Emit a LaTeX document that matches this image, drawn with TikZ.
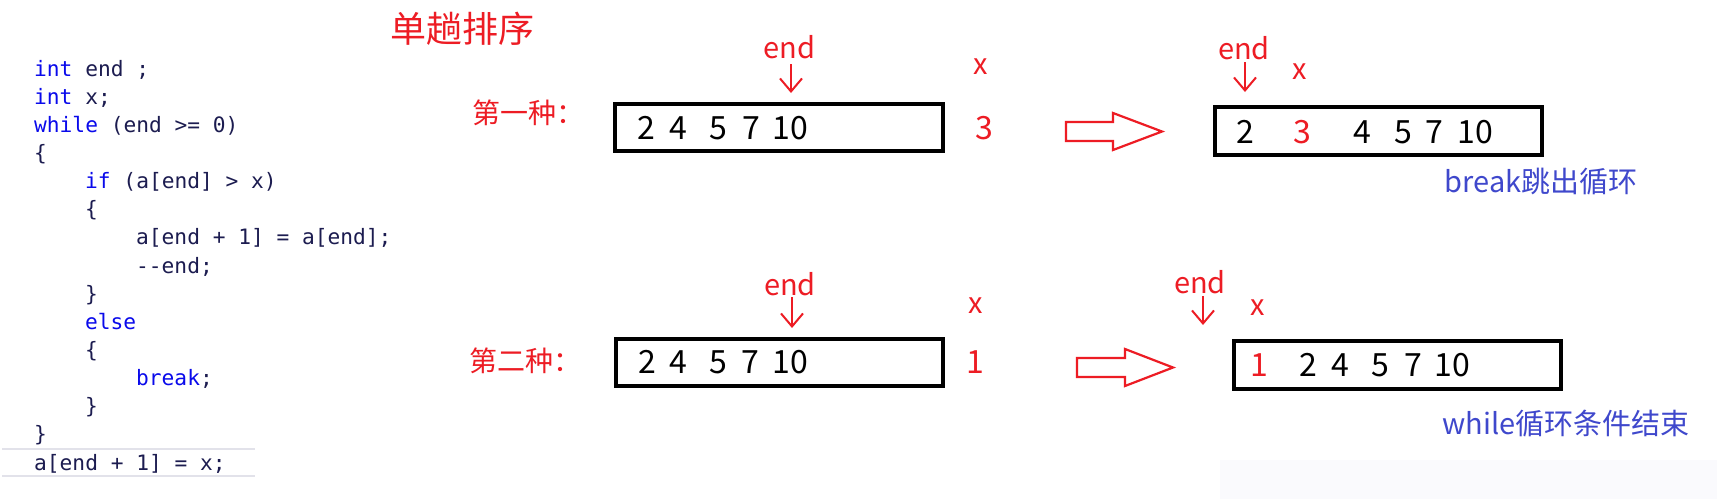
\documentclass[tikz,border=0pt]{standalone}
\usepackage{fontspec}
\usetikzlibrary{arrows.meta}
\newfontfamily\cjk{Noto Sans CJK SC}
\newfontfamily\codefont{DejaVu Sans Mono}
\definecolor{pred}{RGB}{237,28,36}
\definecolor{pblue}{RGB}{63,72,204}
\definecolor{kwblue}{RGB}{10,10,235}
\definecolor{codetxt}{RGB}{28,28,80}
\definecolor{rule}{RGB}{226,226,234}
\definecolor{faint}{RGB}{250,250,253}
\newcommand{\kw}[1]{\textcolor{kwblue}{#1}}
\tikzset{
  code/.style={anchor=base west, inner sep=0pt, text=codetxt, font=\codefont\fontsize{21.2}{25}\selectfont},
  lbl/.style={inner sep=0pt, text=pred, font=\cjk\fontsize{29}{32}\selectfont},
  cn/.style={inner sep=0pt, text=pred, font=\cjk\fontsize{28}{32}\selectfont},
  note/.style={inner sep=0pt, text=pblue, font=\cjk\fontsize{29}{32}\selectfont},
  dig/.style={inner sep=0pt, text=black, font=\cjk\fontsize{32}{35}\selectfont},
  rdig/.style={dig, text=pred},
  arrbox/.style={draw=black, line width=4pt, inner sep=0pt},
  darr/.style={draw=pred, line width=2pt, -{Straight Barb[length=13pt,width=22pt,line width=2pt]}},
  hollow/.style={draw=pred, line width=2.2pt, line join=miter},
}
\begin{document}
\begin{tikzpicture}[x=1pt,y=-1pt]
\useasboundingbox (0,0) rectangle (1717,499);
\fill[white] (0,0) rectangle (1717,499);
\fill[faint] (1220,460) rectangle (1717,499);

% code block
\draw[rule, line width=2pt] (2,449) -- (255,449);
\draw[rule, line width=2pt] (2,476) -- (255,476);
\node[code] (l1)  at (34,76)     {\kw{int} end ;};
\node[code] (l2)  at (34,104.1)  {\kw{int} x;};
\node[code] (l3)  at (34,132.3)  {\kw{while} (end >= 0)};
\node[code] (l4)  at (34,160.4)  {\{};
\node[code] (l5)  at (85,188.6)  {\kw{if} (a[end] > x)};
\node[code] (l6)  at (85,216.7)  {\{};
\node[code] (l7)  at (136,244.8) {a[end + 1] = a[end];};
\node[code] (l8)  at (136,273.0) {-{}-end;};
\node[code] (l9)  at (85,301.1)  {\}};
\node[code] (l10) at (85,329.3)  {\kw{else}};
\node[code] (l11) at (85,357.4)  {\{};
\node[code] (l12) at (136,385.5) {\kw{break};};
\node[code] (l13) at (85,413.7)  {\}};
\node[code] (l14) at (34,441.8)  {\}};
\node[code] (l15) at (34,470)    {a[end + 1] = x;};

% title
\node[inner sep=0pt, text=pred, font=\cjk\fontsize{36}{40}\selectfont, anchor=west] (title) at (390,29) {单趟排序};

% ---- first case ----
\node[cn, anchor=west] (case1) at (472,113) {第一种：};
\node[arrbox, minimum width=328pt, minimum height=47pt] (box1) at (779,127.5) {};
\node[dig] (b1a) at (646,128) {2};
\node[dig] (b1b) at (678,128) {4};
\node[dig] (b1c) at (718.5,128) {5};
\node[dig] (b1d) at (751,128) {7};
\node[dig] (b1e) at (790.5,128) {10};
\node[lbl] (end1) at (789.5,47) {end};
\coordinate (e1s) at (791,64);
\coordinate (e1t) at (791,93);
\draw[darr] (e1s) -- (e1t);
\node[lbl] (x1) at (981,67) {x};
\node[rdig] (v1) at (984,128) {3};

\draw[hollow] (1066,122) -- (1113,122) -- (1113,113) -- (1162,131.5) -- (1113,150) -- (1113,141) -- (1066,141) -- cycle;

\node[arrbox, minimum width=327pt, minimum height=48pt] (box2) at (1378,131) {};
\node[dig] (b2a) at (1245,132) {2};
\node[rdig] (b2b) at (1302,132) {3};
\node[dig] (b2c) at (1362,132) {4};
\node[dig] (b2d) at (1403,132) {5};
\node[dig] (b2e) at (1434,132) {7};
\node[dig] (b2f) at (1475,132) {10};
\node[lbl] (end2) at (1244,48) {end};
\coordinate (e2s) at (1245,62);
\coordinate (e2t) at (1245,92);
\draw[darr] (e2s) -- (e2t);
\node[lbl] (x2) at (1300,72) {x};
\node[note] (n1) at (1541,182) {break跳出循环};

% ---- second case ----
\node[cn, anchor=west] (case2) at (469,361) {第二种：};
\node[arrbox, minimum width=327pt, minimum height=47pt] (box3) at (779,362.5) {};
\node[dig] (b3a) at (647,362) {2};
\node[dig] (b3b) at (678,362) {4};
\node[dig] (b3c) at (718,362) {5};
\node[dig] (b3d) at (750,362) {7};
\node[dig] (b3e) at (790,362) {10};
\node[lbl] (end3) at (790,284) {end};
\coordinate (e3s) at (792,297);
\coordinate (e3t) at (792,328);
\draw[darr] (e3s) -- (e3t);
\node[lbl] (x3) at (976,306) {x};
\node[rdig] (v2) at (975,362) {1};

\draw[hollow] (1077,358) -- (1125,358) -- (1125,349) -- (1173,367.5) -- (1125,386) -- (1125,377) -- (1077,377) -- cycle;

\node[arrbox, minimum width=327pt, minimum height=48pt] (box4) at (1397,365) {};
\node[rdig] (b4a) at (1259,365) {1};
\node[dig] (b4b) at (1308,365) {2};
\node[dig] (b4c) at (1340,365) {4};
\node[dig] (b4d) at (1380,365) {5};
\node[dig] (b4e) at (1413,365) {7};
\node[dig] (b4f) at (1452,365) {10};
\node[lbl] (end4) at (1200,282) {end};
\coordinate (e4s) at (1203,296);
\coordinate (e4t) at (1203,325);
\draw[darr] (e4s) -- (e4t);
\node[lbl] (x4) at (1258,308) {x};
\node[note] (n2) at (1566,424) {while循环条件结束};
\end{tikzpicture}
\end{document}
